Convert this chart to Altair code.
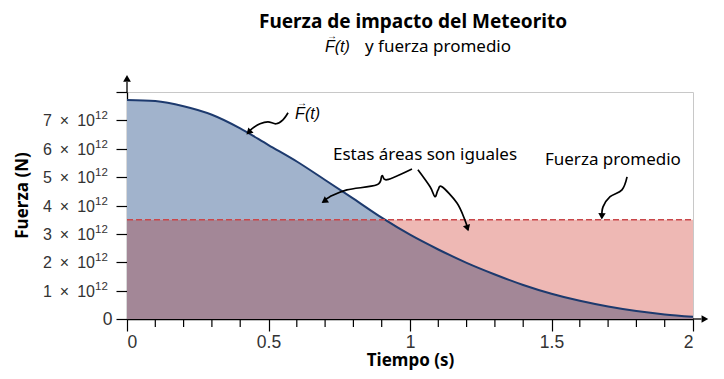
import altair as alt
import pandas as pd

# ---- data ----
time_s = [0.0, 0.1, 0.2, 0.3, 0.4, 0.5, 0.6, 0.7, 0.8, 0.9, 1.0,
          1.1, 1.2, 1.3, 1.4, 1.5, 1.6, 1.7, 1.8, 1.9, 2.0]
force_e12 = [7.72, 7.68, 7.50, 7.20, 6.72, 6.13, 5.55, 4.90, 4.24, 3.57, 2.97,
             2.45, 1.98, 1.57, 1.20, 0.89, 0.64, 0.44, 0.28, 0.16, 0.08]
avg_force_e12 = 3.5
avg_span = [0.0, 2.0]
y_ticks = [0, 1, 2, 3, 4, 5, 6, 7, 8]
y_sci_labels = [1, 2, 3, 4, 5, 6, 7]
x_major = [0, 0.5, 1, 1.5, 2]
x_minor = [0.1, 0.2, 0.3, 0.4, 0.6, 0.7, 0.8, 0.9, 1.1, 1.2, 1.3, 1.4,
           1.6, 1.7, 1.8, 1.9]

# annotation arrow paths (data coordinates)
arrow_id = ["F"] * 7 + ["L"] * 7 + ["R"] * 8 + ["A"] * 5
arrow_t = [0.569, 0.551, 0.527, 0.498, 0.470, 0.442, 0.428,
           1.007, 0.919, 0.901, 0.883, 0.777, 0.717, 0.693,
           1.028, 1.071, 1.088, 1.099, 1.113, 1.166, 1.194, 1.205,
           1.767, 1.749, 1.707, 1.682, 1.678]
arrow_f = [7.27, 7.02, 6.88, 6.95, 6.88, 6.71, 6.57,
           5.29, 4.91, 5.05, 4.73, 4.55, 4.31, 4.13,
           5.26, 4.66, 4.31, 4.55, 4.66, 4.09, 3.49, 3.14,
           5.01, 4.55, 4.31, 3.95, 3.57]
head_t = [0.430, 0.697, 1.203, 1.678]
head_f = [6.58, 4.15, 3.20, 3.62]
head_angle = [225, 235, 163, 182]

BLUE = "#a1b3cc"
PINK = "#eeb8b4"
PURPLE = "#a38797"
NAVY = "#1d3a6e"
RED = "#c9474a"
FONT = "Noto Sans"
NUMFONT = "Liberation Sans"
LABEL_GRAY = "#333333"

W, H = 566, 227
XT, YT = "Tiempo (s)", "Fuerza (N)"

curve = pd.DataFrame({"t": time_s, "F": force_e12})
avg_df = pd.DataFrame({"t": avg_span, "F": [avg_force_e12, avg_force_e12]})
minor_df = pd.DataFrame({"t": x_minor})
sci_df = pd.DataFrame({"F": y_sci_labels})
arrows = pd.DataFrame({"t": arrow_t, "F": arrow_f, "arrow": arrow_id,
                       "order": list(range(len(arrow_t)))})
heads = pd.DataFrame({"t": head_t, "F": head_f, "angle": head_angle})
one = pd.DataFrame({"k": [0]})

xscale = alt.Scale(domain=[0, 2], nice=False, zero=False)
yscale = alt.Scale(domain=[0, 8], nice=False)

x_axis = alt.Axis(values=x_major, format="~g", tickSize=12, tickColor="black",
                  domainColor="black", domainWidth=1.3, tickWidth=1.2,
                  labelColor=LABEL_GRAY, labelFont=NUMFONT, labelFontSize=17.5,
                  labelPadding=2, grid=False, titleFont=FONT, titleFontSize=17,
                  titleFontWeight="bold", titleColor="black", titlePadding=2)
y_axis = alt.Axis(values=y_ticks,
                  labelExpr="datum.value == 0 ? '0' : ''",
                  tickSize=11, tickColor="black", tickWidth=1.2,
                  domainColor="black", domainWidth=1.3,
                  labelColor=LABEL_GRAY, labelFont=NUMFONT, labelFontSize=17.5,
                  labelPadding=4, grid=False, titleFont=FONT, titleFontSize=17,
                  titleFontWeight="bold", titleColor="black",
                  titleX=-105, titleY=103, titleAngle=270,
                  titleBaseline="middle", titleAlign="center")


def X(f="t:Q"):
    return alt.X(f, scale=xscale, axis=x_axis, title=XT)


def Y(f="F:Q"):
    return alt.Y(f, scale=yscale, axis=y_axis, title=YT)


def XD(v):
    return alt.datum(v, scale=xscale, axis=x_axis, title=XT)


def YD(v):
    return alt.datum(v, scale=yscale, axis=y_axis, title=YT)


blue = alt.Chart(curve).mark_area(color=BLUE, opacity=1, interpolate="monotone").encode(
    x=X(), y=Y())

pink = alt.Chart(avg_df).mark_area(color=PINK, opacity=1).encode(x=X(), y=Y())

purple = alt.Chart(curve).transform_calculate(
    Fm=f"min(datum.F, {avg_force_e12})"
).mark_area(color=PURPLE, opacity=1, interpolate="monotone").encode(x=X(), y=Y("Fm:Q"))

line = alt.Chart(curve).mark_line(color=NAVY, strokeWidth=2, interpolate="monotone").encode(
    x=X(), y=Y())

dashed = alt.Chart(avg_df).mark_line(color=RED, strokeWidth=1.5, strokeDash=[6, 3]).encode(
    x=X(), y=Y())

minor = alt.Chart(minor_df).mark_rule(color="black", strokeWidth=1.2).encode(
    x=X(), y=alt.value(H), y2=alt.value(H + 8))

# y tick labels of the form "n × 10^12"
sci_main = alt.Chart(sci_df).transform_calculate(
    lab="datum.F + '\u2002\u00d7\u200210'"
).mark_text(font=NUMFONT, fontSize=16, color=LABEL_GRAY, align="right",
            baseline="middle", dy=1).encode(
    x=alt.value(-32), y=Y(), text="lab:N")
sci_exp = alt.Chart(sci_df).mark_text(text="12", font=NUMFONT, fontSize=11.5, color=LABEL_GRAY,
                                      align="left", baseline="middle", dy=-4).encode(
    x=alt.value(-32), y=Y())

y_arrow_line = alt.Chart(one).mark_rule(color="black", strokeWidth=1.3).encode(
    x=XD(0), y=YD(8), y2=alt.datum(8.35))
y_arrow_head = alt.Chart(one).mark_point(shape="triangle-up", filled=True, size=60,
                                         color="black", opacity=1).encode(
    x=XD(0), y=YD(8.48))
x_arrow_line = alt.Chart(one).mark_rule(color="black", strokeWidth=1.3).encode(
    x=XD(2), x2=alt.datum(2.03), y=YD(0))
x_arrow_head = alt.Chart(one).mark_point(shape="triangle-right", filled=True, size=60,
                                         color="black", opacity=1).encode(
    x=XD(2.042), y=YD(0))

arrow_lines = alt.Chart(arrows).mark_line(color="black", strokeWidth=1.7,
                                          interpolate="cardinal").encode(
    x=X(), y=Y(), detail="arrow:N", order="order:Q")
arrow_heads = alt.Chart(heads).mark_point(shape="triangle-up", filled=True, size=55,
                                          color="black", opacity=1).encode(
    x=X(), y=Y(), angle=alt.Angle("angle:Q", scale=None))


def label(text, t, f, size=17, font=FONT, style="normal", align="center", dx=0, dy=0):
    return alt.Chart(one).mark_text(text=text, font=font, fontSize=size, fontStyle=style,
                                    color="black", align=align, baseline="middle",
                                    dx=dx, dy=dy).encode(x=XD(t), y=YD(f))


lab_equal = label("Estas \u00e1reas son iguales", 1.053, 5.79)
lab_avg = label("Fuerza promedio", 1.717, 5.61)
lab_f = label("F(t)", 0.594, 7.24, size=16, font=NUMFONT, style="italic", align="left")
lab_f_vec = label("\u2192", 0.594, 7.24, size=10, font=NUMFONT, align="left", dx=2, dy=-11)


def toptext(text, px, py, size, weight="normal", font=FONT, style="normal", align="center"):
    return alt.Chart(one).mark_text(text=text, font=font, fontSize=size, fontWeight=weight,
                                    fontStyle=style, color="black", align=align,
                                    baseline="middle").encode(
        x=alt.value(px), y=alt.value(py))


title = toptext("Fuerza de impacto del Meteorito", 286, -70, 19, weight="bold")
sub_f = toptext("F(t)", 198, -45, 16, font=NUMFONT, style="italic", align="left")
sub_f_vec = toptext("\u2192", 200, -56, 10, font=NUMFONT, align="left")
sub_txt = toptext("y fuerza promedio", 238, -45, 17, align="left")

chart = alt.layer(
    blue, pink, purple, line, dashed, minor, sci_main, sci_exp,
    y_arrow_line, y_arrow_head, x_arrow_line, x_arrow_head,
    arrow_lines, arrow_heads, lab_equal, lab_avg, lab_f, lab_f_vec,
    title, sub_f, sub_f_vec, sub_txt,
).properties(
    width=W, height=H,
    autosize=alt.AutoSizeParams(type="none"),
    padding={"left": 119, "top": 84, "right": 23, "bottom": 52},
).configure_view(stroke="#c8c8c8", strokeWidth=1)

chart.save("out.html", embed_options={"renderer": "svg", "actions": False})
